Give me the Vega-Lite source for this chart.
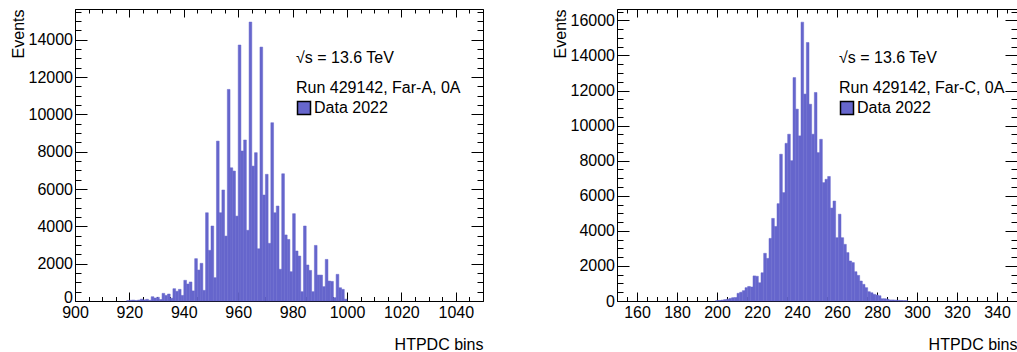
{
  "$schema": "https://vega.github.io/schema/vega-lite/v6.json",
  "background": "white",
  "padding": {"left": 9, "top": 8, "right": 0, "bottom": 0},
  "spacing": 67,
  "config": {
    "font": "Liberation Sans",
    "view": {"stroke": "black", "strokeWidth": 1},
    "axis": {"grid": false, "domain": false, "tickColor": "black", "labelColor": "black", "titleColor": "black", "labelFont": "Liberation Sans", "titleFont": "Liberation Sans", "labelFontSize": 16, "titleFontSize": 16, "titleFontWeight": "normal", "labelFlush": false, "labelOverlap": false, "format": "d"},
    "legend": {"labelFont": "Liberation Sans", "titleFont": "Liberation Sans", "labelFontSize": 16, "titleFontSize": 16, "titleFontWeight": "normal", "labelColor": "black", "titleColor": "black"}
  },
  "datasets": {
    "farA": [
      {"lo": 919, "hi": 920, "n": 20}, {"lo": 920, "hi": 921, "n": 40}, {"lo": 921, "hi": 922, "n": 50}, {"lo": 922, "hi": 923, "n": 30},
      {"lo": 923, "hi": 924, "n": 50}, {"lo": 924, "hi": 925, "n": 100}, {"lo": 925, "hi": 926, "n": 60}, {"lo": 926, "hi": 927, "n": 90},
      {"lo": 927, "hi": 928, "n": 40}, {"lo": 928, "hi": 929, "n": 230}, {"lo": 929, "hi": 930, "n": 160}, {"lo": 930, "hi": 931, "n": 200},
      {"lo": 931, "hi": 932, "n": 80}, {"lo": 932, "hi": 933, "n": 410}, {"lo": 933, "hi": 934, "n": 300}, {"lo": 934, "hi": 935, "n": 375},
      {"lo": 935, "hi": 936, "n": 150}, {"lo": 936, "hi": 937, "n": 660}, {"lo": 937, "hi": 938, "n": 520}, {"lo": 938, "hi": 939, "n": 625},
      {"lo": 939, "hi": 940, "n": 300}, {"lo": 940, "hi": 941, "n": 1110}, {"lo": 941, "hi": 942, "n": 910}, {"lo": 942, "hi": 943, "n": 1020},
      {"lo": 943, "hi": 944, "n": 540}, {"lo": 944, "hi": 945, "n": 2270}, {"lo": 945, "hi": 946, "n": 1660}, {"lo": 946, "hi": 947, "n": 2020},
      {"lo": 947, "hi": 948, "n": 570}, {"lo": 948, "hi": 949, "n": 4730}, {"lo": 949, "hi": 950, "n": 2715}, {"lo": 950, "hi": 951, "n": 4020},
      {"lo": 951, "hi": 952, "n": 1250}, {"lo": 952, "hi": 953, "n": 8570}, {"lo": 953, "hi": 954, "n": 4730}, {"lo": 954, "hi": 955, "n": 5950},
      {"lo": 955, "hi": 956, "n": 3480}, {"lo": 956, "hi": 957, "n": 11340}, {"lo": 957, "hi": 958, "n": 7140}, {"lo": 958, "hi": 959, "n": 6965},
      {"lo": 959, "hi": 960, "n": 4550}, {"lo": 960, "hi": 961, "n": 13720}, {"lo": 961, "hi": 962, "n": 8040}, {"lo": 962, "hi": 963, "n": 8630},
      {"lo": 963, "hi": 964, "n": 3790}, {"lo": 964, "hi": 965, "n": 14950}, {"lo": 965, "hi": 966, "n": 7230}, {"lo": 966, "hi": 967, "n": 7950},
      {"lo": 967, "hi": 968, "n": 2800}, {"lo": 968, "hi": 969, "n": 13610}, {"lo": 969, "hi": 970, "n": 5680}, {"lo": 970, "hi": 971, "n": 6790},
      {"lo": 971, "hi": 972, "n": 3090}, {"lo": 972, "hi": 973, "n": 9555}, {"lo": 973, "hi": 974, "n": 4730}, {"lo": 974, "hi": 975, "n": 5090},
      {"lo": 975, "hi": 976, "n": 1700}, {"lo": 976, "hi": 977, "n": 6820}, {"lo": 977, "hi": 978, "n": 3540}, {"lo": 978, "hi": 979, "n": 3300},
      {"lo": 979, "hi": 980, "n": 1570}, {"lo": 980, "hi": 981, "n": 4680}, {"lo": 981, "hi": 982, "n": 2680}, {"lo": 982, "hi": 983, "n": 2410},
      {"lo": 983, "hi": 984, "n": 500}, {"lo": 984, "hi": 985, "n": 4020}, {"lo": 985, "hi": 986, "n": 1930}, {"lo": 986, "hi": 987, "n": 1640},
      {"lo": 987, "hi": 988, "n": 500}, {"lo": 988, "hi": 989, "n": 2980}, {"lo": 989, "hi": 990, "n": 1390}, {"lo": 990, "hi": 991, "n": 1390},
      {"lo": 991, "hi": 992, "n": 770}, {"lo": 992, "hi": 993, "n": 2230}, {"lo": 993, "hi": 994, "n": 1070}, {"lo": 994, "hi": 995, "n": 1050},
      {"lo": 995, "hi": 996, "n": 180}, {"lo": 996, "hi": 997, "n": 1430}, {"lo": 997, "hi": 998, "n": 710}, {"lo": 998, "hi": 999, "n": 625},
      {"lo": 999, "hi": 1000, "n": 100}
    ],
    "farC": [
      {"lo": 199.33, "hi": 200.67, "n": 20}, {"lo": 200.67, "hi": 202, "n": 30}, {"lo": 202, "hi": 203.33, "n": 50}, {"lo": 203.33, "hi": 204.67, "n": 80},
      {"lo": 204.67, "hi": 206, "n": 100}, {"lo": 206, "hi": 207.33, "n": 150}, {"lo": 207.33, "hi": 208.67, "n": 190}, {"lo": 208.67, "hi": 210, "n": 200},
      {"lo": 210, "hi": 211.33, "n": 440}, {"lo": 211.33, "hi": 212.67, "n": 500}, {"lo": 212.67, "hi": 214, "n": 590}, {"lo": 214, "hi": 215.33, "n": 760},
      {"lo": 215.33, "hi": 216.67, "n": 830}, {"lo": 216.67, "hi": 218, "n": 800}, {"lo": 218, "hi": 219.33, "n": 1430}, {"lo": 219.33, "hi": 220.67, "n": 1410},
      {"lo": 220.67, "hi": 222, "n": 1040}, {"lo": 222, "hi": 223.33, "n": 1610}, {"lo": 223.33, "hi": 224.67, "n": 2720}, {"lo": 224.67, "hi": 226, "n": 2430},
      {"lo": 226, "hi": 227.33, "n": 3570}, {"lo": 227.33, "hi": 228.67, "n": 4710}, {"lo": 228.67, "hi": 230, "n": 4250}, {"lo": 230, "hi": 231.33, "n": 5550},
      {"lo": 231.33, "hi": 232.67, "n": 8370}, {"lo": 232.67, "hi": 234, "n": 6180}, {"lo": 234, "hi": 235.33, "n": 8990}, {"lo": 235.33, "hi": 236.67, "n": 9510},
      {"lo": 236.67, "hi": 238, "n": 8000}, {"lo": 238, "hi": 239.33, "n": 12740}, {"lo": 239.33, "hi": 240.67, "n": 10940}, {"lo": 240.67, "hi": 242, "n": 9415},
      {"lo": 242, "hi": 243.33, "n": 15900}, {"lo": 243.33, "hi": 244.67, "n": 11800}, {"lo": 244.67, "hi": 246, "n": 14740}, {"lo": 246, "hi": 247.33, "n": 11220},
      {"lo": 247.33, "hi": 248.67, "n": 9510}, {"lo": 248.67, "hi": 250, "n": 11890}, {"lo": 250, "hi": 251.33, "n": 8460}, {"lo": 251.33, "hi": 252.67, "n": 9220},
      {"lo": 252.67, "hi": 254, "n": 6750}, {"lo": 254, "hi": 255.33, "n": 6940}, {"lo": 255.33, "hi": 256.67, "n": 7100}, {"lo": 256.67, "hi": 258, "n": 5300},
      {"lo": 258, "hi": 259.33, "n": 5700}, {"lo": 259.33, "hi": 260.67, "n": 3610}, {"lo": 260.67, "hi": 262, "n": 4950}, {"lo": 262, "hi": 263.33, "n": 3610},
      {"lo": 263.33, "hi": 264.67, "n": 3230}, {"lo": 264.67, "hi": 266, "n": 2760}, {"lo": 266, "hi": 267.33, "n": 2280}, {"lo": 267.33, "hi": 268.67, "n": 2190},
      {"lo": 268.67, "hi": 270, "n": 1670}, {"lo": 270, "hi": 271.33, "n": 1460}, {"lo": 271.33, "hi": 272.67, "n": 1140}, {"lo": 272.67, "hi": 274, "n": 950},
      {"lo": 274, "hi": 275.33, "n": 760}, {"lo": 275.33, "hi": 276.67, "n": 530}, {"lo": 276.67, "hi": 278, "n": 470}, {"lo": 278, "hi": 279.33, "n": 380},
      {"lo": 279.33, "hi": 280.67, "n": 340}, {"lo": 280.67, "hi": 282, "n": 300}, {"lo": 282, "hi": 283.33, "n": 130}, {"lo": 283.33, "hi": 284.67, "n": 130},
      {"lo": 284.67, "hi": 286, "n": 100}, {"lo": 286, "hi": 287.33, "n": 60}, {"lo": 287.33, "hi": 288.67, "n": 60}, {"lo": 288.67, "hi": 290, "n": 50},
      {"lo": 290, "hi": 291.33, "n": 40}, {"lo": 291.33, "hi": 292.67, "n": 30}, {"lo": 292.67, "hi": 294, "n": 20}, {"lo": 294, "hi": 295.33, "n": 20}
    ]
  },
  "resolve": {"scale": {"fill": "independent"}, "legend": {"fill": "independent"}},
  "hconcat": [
    {
      "width": 408,
      "height": 292,
      "data": {"name": "farA"},
      "resolve": {"axis": {"x": "independent", "y": "independent"}},
      "layer": [
        {
          "mark": {"type": "bar", "stroke": "#6666cc", "strokeWidth": 0.5},
          "encoding": {
            "x": {"field": "lo", "type": "quantitative", "scale": {"domain": [900, 1050], "nice": false, "zero": false},
              "axis": {"orient": "bottom", "values": [900, 920, 940, 960, 980, 1000, 1020, 1040], "tickSize": -9, "labelPadding": 12, "title": "HTPDC bins", "titleX": 408, "titleY": 43, "titleAlign": "right", "titleBaseline": "middle", "titleAnchor": null}},
            "x2": {"field": "hi"},
            "y": {"field": "n", "type": "quantitative", "scale": {"domain": [0, 15650], "nice": false},
              "axis": {"orient": "left", "values": [0, 2000, 4000, 6000, 8000, 10000, 12000, 14000], "tickSize": -12, "labelPadding": 14.5, "labelOffset": {"condition": {"test": "datum.value == 0", "value": -4}, "value": 0}, "title": "Events", "titleX": -57, "titleY": 0, "titleAngle": -90, "titleAlign": "right", "titleBaseline": "middle"}},
            "y2": {"datum": 0},
            "fill": {"datum": "Data 2022", "type": "nominal", "scale": {"range": ["#6666cc"]},
              "legend": {"orient": "none", "legendX": 221, "legendY": 41, "padding": 0, "title": ["√s = 13.6 TeV", "Run 429142, Far-A, 0A"], "titleLineHeight": 30, "titleAnchor": "start", "titleAlign": "left", "titlePadding": 4, "symbolType": "square", "symbolSize": 169, "symbolStrokeColor": "black", "symbolStrokeWidth": 1.5, "labelOffset": 2,
                "encode": {"symbols": {"update": {"stroke": {"value": "black"}, "strokeWidth": {"value": 1.5}}}}}}
          }
        },
        {
          "mark": {"type": "bar", "opacity": 0},
          "encoding": {
            "x": {"field": "lo", "type": "quantitative", "axis": {"orient": "bottom", "values": [900,905,910,915,920,925,930,935,940,945,950,955,960,965,970,975,980,985,990,995,1000,1005,1010,1015,1020,1025,1030,1035,1040,1045,1050], "tickSize": -4.5, "labels": false, "title": null}},
            "x2": {"field": "hi"},
            "y": {"field": "n", "type": "quantitative", "axis": {"orient": "left", "values": [500,1000,1500,2500,3000,3500,4500,5000,5500,6500,7000,7500,8500,9000,9500,10500,11000,11500,12500,13000,13500,14500,15000,15500], "tickSize": -6, "labels": false, "title": null}},
            "y2": {"datum": 0}
          }
        },
        {
          "mark": {"type": "bar", "opacity": 0},
          "encoding": {
            "x": {"field": "lo", "type": "quantitative", "axis": {"orient": "top", "values": [900, 920, 940, 960, 980, 1000, 1020, 1040], "tickSize": -8, "labels": false, "title": null}},
            "x2": {"field": "hi"},
            "y": {"field": "n", "type": "quantitative", "axis": {"orient": "right", "values": [0, 2000, 4000, 6000, 8000, 10000, 12000, 14000], "tickSize": -12, "labels": false, "title": null}},
            "y2": {"datum": 0}
          }
        },
        {
          "mark": {"type": "bar", "opacity": 0},
          "encoding": {
            "x": {"field": "lo", "type": "quantitative", "axis": {"orient": "top", "values": [900,905,910,915,920,925,930,935,940,945,950,955,960,965,970,975,980,985,990,995,1000,1005,1010,1015,1020,1025,1030,1035,1040,1045,1050], "tickSize": -4, "labels": false, "title": null}},
            "x2": {"field": "hi"},
            "y": {"field": "n", "type": "quantitative", "axis": {"orient": "right", "values": [500,1000,1500,2500,3000,3500,4500,5000,5500,6500,7000,7500,8500,9000,9500,10500,11000,11500,12500,13000,13500,14500,15000,15500], "tickSize": -6, "labels": false, "title": null}},
            "y2": {"datum": 0}
          }
        }
      ]
    },
    {
      "width": 400,
      "height": 292,
      "data": {"name": "farC"},
      "resolve": {"axis": {"x": "independent", "y": "independent"}},
      "layer": [
        {
          "mark": {"type": "bar", "stroke": "#6666cc", "strokeWidth": 0.5},
          "encoding": {
            "x": {"field": "lo", "type": "quantitative", "scale": {"domain": [150, 350], "nice": false, "zero": false},
              "axis": {"orient": "bottom", "values": [160, 180, 200, 220, 240, 260, 280, 300, 320, 340], "tickSize": -9, "labelPadding": 12, "title": "HTPDC bins", "titleX": 400, "titleY": 43, "titleAlign": "right", "titleBaseline": "middle", "titleAnchor": null}},
            "x2": {"field": "hi"},
            "y": {"field": "n", "type": "quantitative", "scale": {"domain": [0, 16650], "nice": false},
              "axis": {"orient": "left", "values": [0, 2000, 4000, 6000, 8000, 10000, 12000, 14000, 16000], "tickSize": -12, "labelPadding": 14.5, "title": "Events", "titleX": -57, "titleY": 0, "titleAngle": -90, "titleAlign": "right", "titleBaseline": "middle"}},
            "y2": {"datum": 0},
            "fill": {"datum": "Data 2022", "type": "nominal", "scale": {"range": ["#6666cc"]},
              "legend": {"orient": "none", "legendX": 222, "legendY": 41, "padding": 0, "title": ["√s = 13.6 TeV", "Run 429142, Far-C, 0A"], "titleLineHeight": 30, "titleAnchor": "start", "titleAlign": "left", "titlePadding": 4, "symbolType": "square", "symbolSize": 169, "symbolStrokeColor": "black", "symbolStrokeWidth": 1.5, "labelOffset": 2,
                "encode": {"symbols": {"update": {"stroke": {"value": "black"}, "strokeWidth": {"value": 1.5}}}}}}
          }
        },
        {
          "mark": {"type": "bar", "opacity": 0},
          "encoding": {
            "x": {"field": "lo", "type": "quantitative", "axis": {"orient": "bottom", "values": [150,155,160,165,170,175,180,185,190,195,200,205,210,215,220,225,230,235,240,245,250,255,260,265,270,275,280,285,290,295,300,305,310,315,320,325,330,335,340,345,350], "tickSize": -4.5, "labels": false, "title": null}},
            "x2": {"field": "hi"},
            "y": {"field": "n", "type": "quantitative", "axis": {"orient": "left", "values": [500,1000,1500,2500,3000,3500,4500,5000,5500,6500,7000,7500,8500,9000,9500,10500,11000,11500,12500,13000,13500,14500,15000,15500,16500], "tickSize": -6, "labels": false, "title": null}},
            "y2": {"datum": 0}
          }
        },
        {
          "mark": {"type": "bar", "opacity": 0},
          "encoding": {
            "x": {"field": "lo", "type": "quantitative", "axis": {"orient": "top", "values": [160, 180, 200, 220, 240, 260, 280, 300, 320, 340], "tickSize": -8, "labels": false, "title": null}},
            "x2": {"field": "hi"},
            "y": {"field": "n", "type": "quantitative", "axis": {"orient": "right", "values": [0, 2000, 4000, 6000, 8000, 10000, 12000, 14000, 16000], "tickSize": -12, "labels": false, "title": null}},
            "y2": {"datum": 0}
          }
        },
        {
          "mark": {"type": "bar", "opacity": 0},
          "encoding": {
            "x": {"field": "lo", "type": "quantitative", "axis": {"orient": "top", "values": [150,155,160,165,170,175,180,185,190,195,200,205,210,215,220,225,230,235,240,245,250,255,260,265,270,275,280,285,290,295,300,305,310,315,320,325,330,335,340,345,350], "tickSize": -4, "labels": false, "title": null}},
            "x2": {"field": "hi"},
            "y": {"field": "n", "type": "quantitative", "axis": {"orient": "right", "values": [500,1000,1500,2500,3000,3500,4500,5000,5500,6500,7000,7500,8500,9000,9500,10500,11000,11500,12500,13000,13500,14500,15000,15500,16500], "tickSize": -6, "labels": false, "title": null}},
            "y2": {"datum": 0}
          }
        }
      ]
    }
  ]
}
